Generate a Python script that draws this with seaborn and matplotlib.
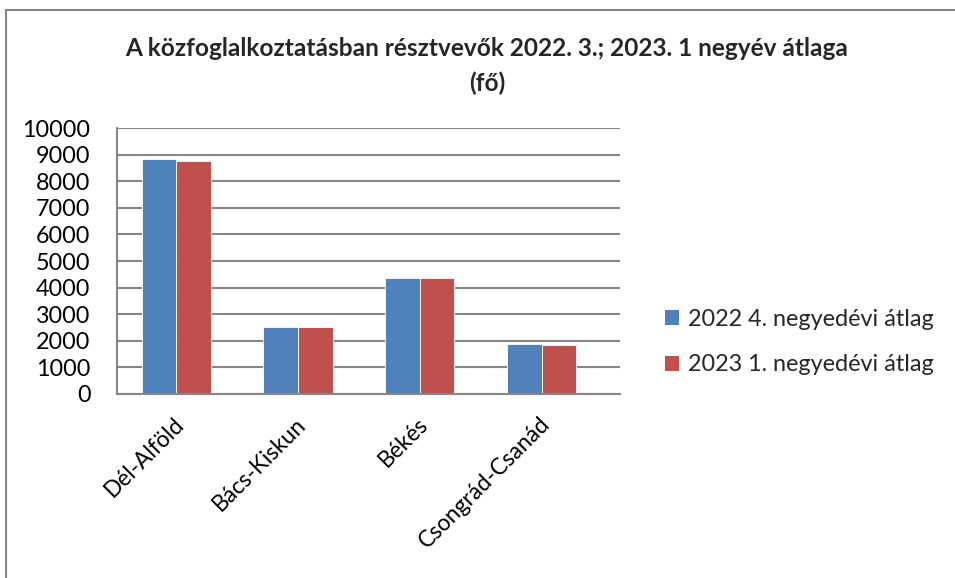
import matplotlib
matplotlib.use("Agg")
import matplotlib.pyplot as plt
import matplotlib.transforms as mtransforms
import seaborn as sns
import pandas as pd
from matplotlib.patches import Patch
from matplotlib.lines import Line2D

categories = ["Dél-Alföld", "Bács-Kiskun", "Békés", "Csongrád-Csanád"]
series_names = ["2022 4. negyedévi átlag", "2023 1. negyedévi átlag"]
values_2022q4 = [8835, 2530, 4375, 1880]
values_2023q1 = [8775, 2505, 4350, 1855]
yticks = [0, 1000, 2000, 3000, 4000, 5000, 6000, 7000, 8000, 9000, 10000]
title = "A közfoglalkoztatásban résztvevők 2022. 3.; 2023. 1 negyév átlaga\n(fő)"
colors = ["#4F81BD", "#C0504D"]

df = pd.DataFrame({
    "cat": categories * 2,
    "series": [series_names[0]] * 4 + [series_names[1]] * 4,
    "value": values_2022q4 + values_2023q1,
})

sns.set_theme(style="white")
plt.rcParams["font.family"] = ["Lato", "DejaVu Sans"]

fig = plt.figure(figsize=(9.55, 5.78), dpi=100)
ax = fig.add_axes([117 / 955, 1 - 394 / 578, 503 / 955, 266 / 578])

sns.barplot(data=df, x="cat", y="value", hue="series", palette=colors,
            width=0.566, ax=ax, legend=False, edgecolor="white", linewidth=0.6,
            saturation=1)

ax.set_xlim(-0.484, 3.64)
ax.set_ylim(0, 10000)
ax.set_yticks(yticks)
ax.set_yticklabels([str(t) for t in yticks], fontsize=16.8, color="black")
ax.set_xlabel("")
ax.set_ylabel("")
ax.set_xticks(range(len(categories)))
ax.set_xticklabels(categories, rotation=45, ha="right", rotation_mode="anchor",
                   fontsize=16.3, color="black")
ax.tick_params(axis="y", length=0, pad=19)
ax.tick_params(axis="x", length=0, pad=14)
offset = mtransforms.ScaledTranslation(-3 / 100, 0, fig.dpi_scale_trans)
for lbl in ax.get_xticklabels():
    lbl.set_transform(lbl.get_transform() + offset)
ax.yaxis.grid(True, color="#868686", linewidth=1.5)
ax.set_axisbelow(True)
for s in ["top", "right"]:
    ax.spines[s].set_visible(False)
for s in ["left", "bottom"]:
    ax.spines[s].set_color("#868686")
    ax.spines[s].set_linewidth(1.5)

fig.text(487 / 955, 1 - 66 / 578, title, ha="center", va="center",
         fontsize=17.6, fontweight="bold", linespacing=1.6)

handles = [Patch(facecolor=c, edgecolor="none") for c in colors]
fig.legend(handles, series_names, loc="center left",
           bbox_to_anchor=(644 / 955, 1 - 342 / 578), frameon=False,
           fontsize=16.8, handlelength=0.62, handleheight=0.62,
           handletextpad=0.35, labelspacing=1.06)

# outer chart border
fig.add_artist(Line2D([6 / 955, 6 / 955], [0, 1 - 10 / 578],
                      transform=fig.transFigure, color="#868686", linewidth=1.5))
fig.add_artist(Line2D([6 / 955, 1], [1 - 10 / 578, 1 - 10 / 578],
                      transform=fig.transFigure, color="#868686", linewidth=1.5))

fig.savefig("out.png", dpi=100)
